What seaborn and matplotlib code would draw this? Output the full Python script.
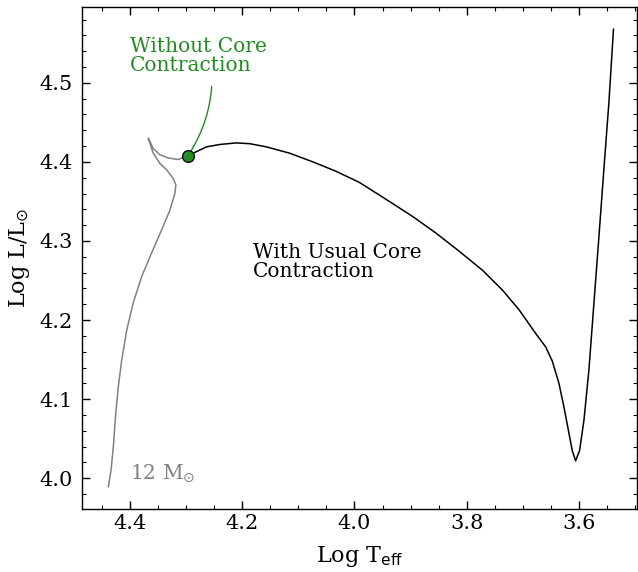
import matplotlib
matplotlib.use("Agg")
import matplotlib.pyplot as plt
from matplotlib.ticker import MultipleLocator
import seaborn as sns
import pandas as pd

# Early track of a 12 solar-mass star (grey)
grey_logT = [4.4386, 4.4338, 4.4297, 4.4254, 4.4208, 4.4148, 4.4059, 4.3941,
             4.3792, 4.3614, 4.3436, 4.3289, 4.3200, 4.3182, 4.3230, 4.3348,
             4.3467, 4.3586, 4.3675, 4.3586, 4.3467, 4.3319, 4.3141, 4.3035,
             4.2964]
grey_logL = [3.989, 4.010, 4.040, 4.082, 4.116, 4.149, 4.187, 4.222,
             4.255, 4.285, 4.314, 4.339, 4.360, 4.371, 4.379, 4.390,
             4.398, 4.411, 4.430, 4.417, 4.409, 4.405, 4.403, 4.406,
             4.408]

# Evolution with usual core contraction (black)
black_logT = [4.2964, 4.2814, 4.2636, 4.2400, 4.2103, 4.1867, 4.1570, 4.1156,
              4.0741, 4.0325, 3.9911, 3.9556, 3.9378, 3.8964, 3.8548, 3.8133,
              3.7719, 3.7364, 3.7067, 3.6770, 3.6592, 3.6474, 3.6356, 3.6267,
              3.6178, 3.6119, 3.6059, 3.5988, 3.5911, 3.5822, 3.5733, 3.5644,
              3.5556, 3.5467, 3.5384]
black_logL = [4.408, 4.413, 4.419, 4.422, 4.424, 4.423, 4.419, 4.411,
              4.400, 4.388, 4.374, 4.358, 4.350, 4.331, 4.310, 4.287,
              4.263, 4.238, 4.213, 4.183, 4.166, 4.148, 4.120, 4.090,
              4.057, 4.035, 4.022, 4.035, 4.073, 4.137, 4.221, 4.305,
              4.390, 4.474, 4.568]

# Point where core contraction is suppressed
dot_logT = [4.2964]
dot_logL = [4.408]

sns.set_theme(style="ticks")
plt.rcParams["font.family"] = ["DejaVu Serif"]
plt.rcParams.update({"text.color": "black", "axes.labelcolor": "black",
                     "xtick.color": "black", "ytick.color": "black",
                     "axes.edgecolor": "black"})

fig, ax = plt.subplots(figsize=(6.38, 5.72), dpi=100)
fig.subplots_adjust(left=0.129, right=0.998, bottom=0.11, top=0.988)

grey_df = pd.DataFrame({"logT": grey_logT, "logL": grey_logL})
black_df = pd.DataFrame({"logT": black_logT, "logL": black_logL})

sns.lineplot(data=grey_df, x="logT", y="logL", sort=False, estimator=None,
             color="grey", lw=1.1, ax=ax)
sns.lineplot(data=black_df, x="logT", y="logL", sort=False, estimator=None,
             color="black", lw=1.1, ax=ax)
ax.plot(dot_logT, dot_logL, "o", color="#228B22", mec="black", mew=0.9,
        ms=8.5, zorder=5)

ax.annotate("Without Core\nContraction", xy=(dot_logT[0], dot_logL[0]),
            xytext=(4.4, 4.558), textcoords="data", ha="left", va="top",
            color="#228B22", fontsize=14.5, linespacing=1.0,
            arrowprops=dict(arrowstyle="-", color="#228B22", lw=1.0,
                            connectionstyle="arc3,rad=-0.15",
                            relpos=(0.6, 0.0), shrinkA=6, shrinkB=4))

ax.text(4.181, 4.297, "With Usual Core\nContraction", ha="left", va="top",
        fontsize=14.5, color="black", linespacing=1.0)
ax.text(4.4, 4.0, r"12 M$_{\odot}$", ha="left", va="baseline",
        fontsize=14.5, color="grey")

ax.set_xlim(4.485, 3.497)
ax.set_ylim(3.961, 4.596)
ax.set_xlabel(r"Log T$_{\rm eff}$", fontsize=16, labelpad=8)
ax.set_ylabel(r"Log L/L$_{\odot}$", fontsize=16, labelpad=5)

ax.xaxis.set_major_locator(MultipleLocator(0.2))
ax.xaxis.set_minor_locator(MultipleLocator(0.05))
ax.yaxis.set_major_locator(MultipleLocator(0.1))
ax.yaxis.set_minor_locator(MultipleLocator(0.02))
ax.tick_params(which="both", direction="in", top=True, right=True,
               labelsize=15)
ax.tick_params(which="major", length=6, width=1.0)
ax.tick_params(axis="y", which="major", pad=7)
ax.tick_params(which="minor", length=3, width=0.8)
for s in ax.spines.values():
    s.set_linewidth(1.0)

fig.savefig("out.png", dpi=100)
